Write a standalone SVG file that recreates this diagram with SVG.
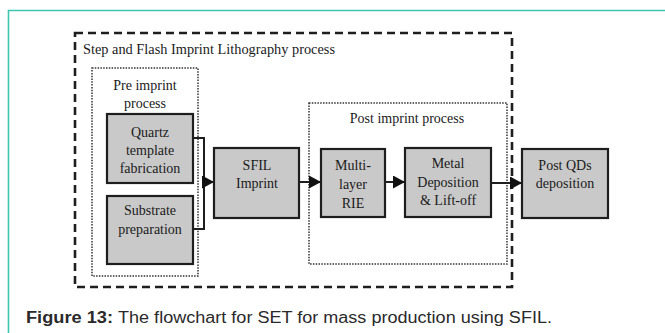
<svg xmlns="http://www.w3.org/2000/svg" width="665" height="333" viewBox="0 0 665 333">
<style>
.box{fill:#c9c9c9;stroke:#1e1e1e;stroke-width:2.2}
.t{font-family:"Liberation Serif","Times New Roman",serif;font-size:14px;fill:#1a1a1a;text-anchor:middle}
.tl{font-family:"Liberation Serif","Times New Roman",serif;font-size:14px;fill:#1a1a1a}
.dash{fill:none;stroke:#1e1e1e;stroke-width:2.6;stroke-dasharray:8 5}
.dot{fill:none;stroke:#333;stroke-width:1.5;stroke-dasharray:1.5 1.3}
.conn{fill:none;stroke:#1e1e1e;stroke-width:2}
.cap{font-family:"Liberation Sans",Arial,sans-serif;font-size:16px;fill:#2a2a2a}
</style>
<defs>
<marker id="ah" markerWidth="12" markerHeight="13" refX="12" refY="6.5" orient="auto" markerUnits="userSpaceOnUse">
<path d="M0,0 L12,6.5 L0,13 Z" fill="#111"/>
</marker>
</defs>
<rect width="665" height="333" fill="#fff"/>
<g id="frame">
<path d="M8.5,333 V10.5 H665" fill="none" stroke="#3fc6b1" stroke-width="1.6"/>
</g>
<g id="sfil-process">
<rect class="dash" x="75" y="33" width="437" height="254"/>
<text class="tl" x="83" y="54" textLength="252" lengthAdjust="spacingAndGlyphs">Step and Flash Imprint Lithography process</text>
</g>
<g id="pre-imprint">
<rect class="dot" x="92" y="68" width="106" height="208"/>
<text class="t" x="145" y="90">Pre imprint</text>
<text class="t" x="145" y="108">process</text>
</g>
<g id="post-imprint">
<rect class="dot" x="309" y="103" width="198" height="161"/>
<text class="t" x="407" y="123">Post imprint process</text>
</g>
<g id="quartz">
<rect class="box" x="107" y="114" width="86" height="69"/>
<text class="t" x="150" y="137">Quartz</text>
<text class="t" x="150" y="155">template</text>
<text class="t" x="150" y="173">fabrication</text>
</g>
<g id="substrate">
<rect class="box" x="107" y="196" width="86" height="68"/>
<text class="t" x="150" y="215">Substrate</text>
<text class="t" x="150" y="234">preparation</text>
</g>
<g id="sfil-imprint">
<rect class="box" x="214" y="148" width="85" height="70"/>
<text class="t" x="257" y="170">SFIL</text>
<text class="t" x="257" y="188">Imprint</text>
</g>
<g id="rie">
<rect class="box" x="321" y="149" width="64" height="68"/>
<text class="t" x="353" y="170">Multi-</text>
<text class="t" x="353" y="189">layer</text>
<text class="t" x="353" y="208">RIE</text>
</g>
<g id="metal">
<rect class="box" x="405" y="148" width="86" height="69"/>
<text class="t" x="448" y="168">Metal</text>
<text class="t" x="448" y="187">Deposition</text>
<text class="t" x="448" y="205">&amp; Lift-off</text>
</g>
<g id="post-qds">
<rect class="box" x="522" y="149" width="86" height="69"/>
<text class="t" x="565" y="170">Post QDs</text>
<text class="t" x="565" y="188">deposition</text>
</g>
<g id="connectors">
<path class="conn" d="M193,138 H204 V229 H193"/>
<path class="conn" d="M204,182 H214" marker-end="url(#ah)"/>
<path class="conn" d="M299,182 H321" marker-end="url(#ah)"/>
<path class="conn" d="M385,182 H405" marker-end="url(#ah)"/>
<path class="conn" d="M491,183 H522" marker-end="url(#ah)"/>
</g>
<g id="caption">
<text class="cap" x="26" y="323" font-weight="bold" textLength="87" lengthAdjust="spacingAndGlyphs">Figure 13:</text>
<text class="cap" x="118" y="323" textLength="434" lengthAdjust="spacingAndGlyphs">The flowchart for SET for mass production using SFIL.</text>
</g>
</svg>
